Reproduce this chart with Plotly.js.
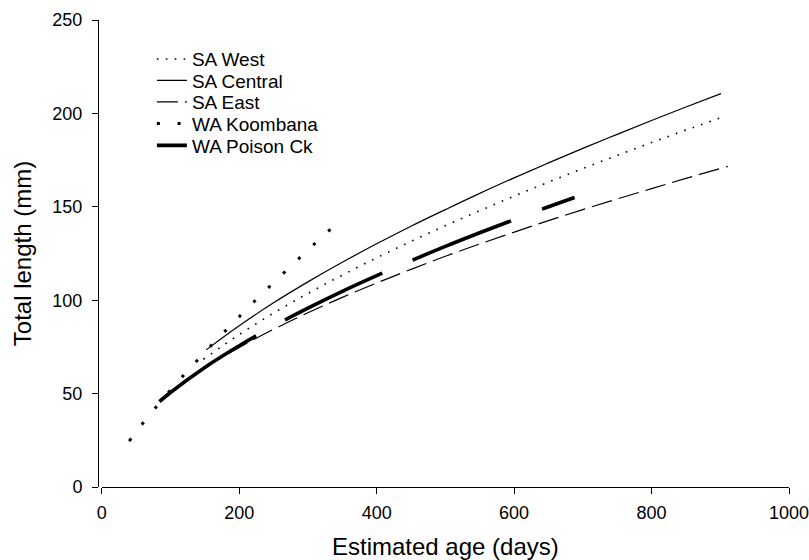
<!DOCTYPE html>
<html><head><meta charset="utf-8">
<script src="https://cdn.plot.ly/plotly-3.0.1.min.js"></script>
<style>html,body{margin:0;padding:0;background:#fff}#chart{width:809px;height:560px}</style>
</head><body><div id="chart"></div>
<script>
// Series (age in days, total length in mm)
const seriesNames = ['SA West', 'SA Central', 'SA East', 'WA Koombana', 'WA Poison Ck'];

const saWestAge = [148, 200, 250, 300, 350, 400, 450, 500, 550, 600, 650, 700, 750, 800, 850, 904];
const saWestLen = [68.4, 81.6, 93.1, 103.6, 113.4, 122.7, 131.5, 139.9, 147.9, 155.7, 163.2, 170.5, 177.5, 184.4, 191.1, 198.1];

const saCentralAge = [152, 200, 250, 300, 350, 400, 450, 500, 550, 600, 650, 700, 750, 800, 850, 901];
const saCentralLen = [73.4, 86.3, 98.6, 109.8, 120.3, 130.2, 139.6, 148.5, 157.2, 165.5, 173.5, 181.3, 188.8, 196.2, 203.4, 210.6];

const saEastAge = [84, 100, 150, 200, 250, 300, 350, 400, 450, 500, 550, 600, 650, 700, 750, 800, 850, 911];
const saEastLen = [46.4, 51.1, 63.8, 74.7, 84.4, 93.3, 101.5, 109.2, 116.5, 123.5, 130.1, 136.4, 142.6, 148.5, 154.2, 159.7, 165.2, 171.6];

const waKoombanaAge = [40, 57, 75, 95, 114, 134, 156, 178, 199, 222, 245, 268, 292, 315, 337];
const waKoombanaLen = [24.6, 32.8, 41.0, 49.7, 57.7, 65.8, 74.5, 82.9, 90.8, 99.3, 107.6, 115.7, 124.1, 132.0, 139.3];

const waPoisonAge = [84, 100, 150, 200, 250, 300, 350, 400, 450, 500, 550, 600, 650, 688];
const waPoisonLen = [45.7, 50.6, 64.0, 75.6, 86.1, 95.7, 104.7, 113.1, 121.1, 128.8, 136.1, 143.1, 150.0, 155.0];

const xTickVals = [0, 200, 400, 600, 800, 1000];
const yTickVals = [0, 50, 100, 150, 200, 250];

const traces = [
  {x: saWestAge, y: saWestLen, name: seriesNames[0], mode: 'lines', legend: 'legend',
   line: {color: '#000', width: 1.6, dash: '1.6px,7.3px', shape: 'spline'}},
  {x: saCentralAge, y: saCentralLen, name: seriesNames[1], mode: 'lines', legend: 'legend2',
   line: {color: '#000', width: 1.2, shape: 'spline'}},
  {x: saEastAge, y: saEastLen, name: seriesNames[2], mode: 'lines', legend: 'legend3',
   line: {color: '#000', width: 1.2, dash: '21px,7px', shape: 'spline'}},
  {x: waKoombanaAge, y: waKoombanaLen, name: seriesNames[3], mode: 'lines', legend: 'legend4',
   line: {color: '#000', width: 3, dash: '3px,17.7px', shape: 'spline'}},
  {x: waPoisonAge, y: waPoisonLen, name: seriesNames[4], mode: 'lines', legend: 'legend5',
   line: {color: '#000', width: 3.6, dash: '117px,33px,108px,33px,106px,33px', shape: 'spline'}}
];

function legendAt(y) {
  return {x: 0.078, y: y, xanchor: 'left', yanchor: 'top', bgcolor: 'rgba(0,0,0,0)',
          font: {size: 19}, borderwidth: 0};
}

const layout = {
  width: 809, height: 560,
  margin: {l: 98, r: 20, t: 20, b: 73},
  paper_bgcolor: '#fff', plot_bgcolor: '#fff',
  font: {family: '"Liberation Sans", Arial, sans-serif', color: '#000', size: 18},
  showlegend: true,
  legend: legendAt(0.957),
  legend2: legendAt(0.911),
  legend3: legendAt(0.865),
  legend4: legendAt(0.8185),
  legend5: legendAt(0.772),
  xaxis: {
    domain: [0.0054, 1], range: [0, 1000], tickmode: 'array', tickvals: xTickVals,
    showline: true, linecolor: '#000', linewidth: 1, mirror: false,
    ticks: 'outside', ticklen: 6, tickwidth: 1, tickcolor: '#000', ticklabelstandoff: 3,
    ticklabeloverflow: 'allow',
    showgrid: false, zeroline: false, fixedrange: true,
    title: {text: 'Estimated age (days)', font: {size: 24}, standoff: 17}
  },
  yaxis: {
    range: [0, 250], anchor: 'free', position: 0, tickmode: 'array', tickvals: yTickVals,
    showline: true, linecolor: '#000', linewidth: 1,
    ticks: 'outside', ticklen: 6, tickwidth: 1, tickcolor: '#000', ticklabelstandoff: 6,
    ticklabeloverflow: 'allow',
    showgrid: false, zeroline: false, fixedrange: true,
    title: {text: 'Total length (mm)', font: {size: 24}, standoff: 12}
  }
};

Plotly.newPlot('chart', traces, layout, {displayModeBar: false, staticPlot: true});
</script>
</body></html>
